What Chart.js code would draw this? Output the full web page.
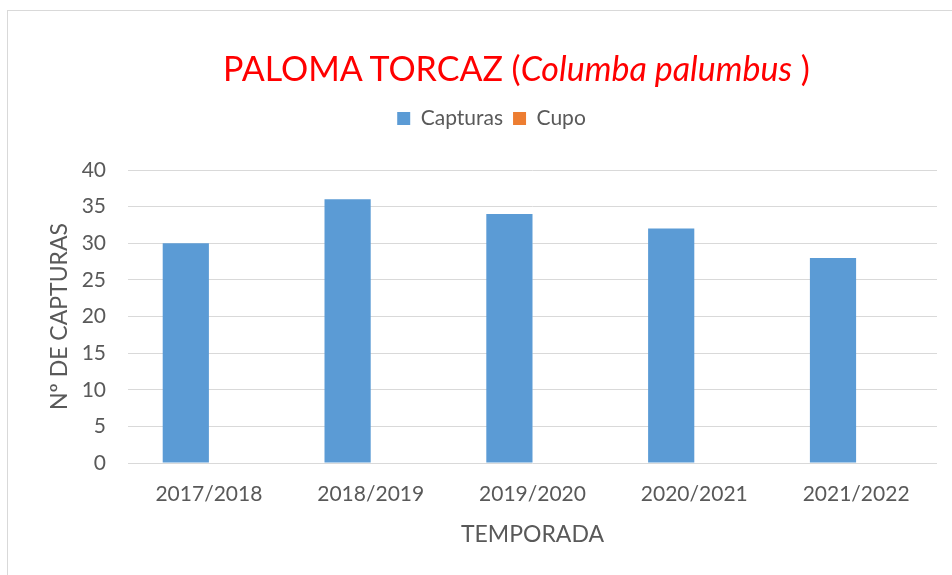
<!DOCTYPE html>
<html>
<head>
<meta charset="utf-8">
<script src="https://cdn.jsdelivr.net/npm/chart.js@4"></script>
<style>
    html, body { margin: 0; padding: 0; background: #fff; }
    #wrap { position: relative; width: 952px; height: 575px; overflow: hidden; }
    #frame { position: absolute; left: 7px; top: 10px; width: 1000px; height: 1000px; border: 1px solid #d9d9d9; box-sizing: border-box; }
    #titulo { position: absolute; left: 223px; top: 47px; font-family: Lato, sans-serif; font-size: 34px; color: #ff0000; white-space: nowrap; }
    canvas { position: absolute; left: 0; top: 0; }
</style>
</head>
<body>
<div id="wrap">
    <div id="frame"></div>
    <canvas id="chart1" width="952" height="575"></canvas>
    <div id="titulo">PALOMA TORCAZ (<i>Columba palumbus</i> )</div>
</div>
<script>
const temporadas = ['2017/2018', '2018/2019', '2019/2020', '2020/2021', '2021/2022'];
const capturas = [30, 36, 34, 32, 28];
const cupo = [null, null, null, null, null];

// deja hueco entre la leyenda y el area del grafico
const legendGap = {
    id: 'legendGap',
    beforeInit(chart) {
        const fitOrig = chart.legend.fit;
        chart.legend.fit = function () {
            fitOrig.bind(chart.legend)();
            this.height = 72;
        };
    }
};

document.addEventListener('DOMContentLoaded', () => {

    const ctx1 = document.getElementById('chart1').getContext('2d');
    new Chart(ctx1, {
        type: 'bar',
        data: {
            labels: temporadas,
            datasets: [{
                label: 'Capturas',
                data: capturas,
                backgroundColor: '#5b9bd5',
                barPercentage: 1,
                categoryPercentage: 0.571
            }, {
                label: 'Cupo',
                data: cupo,
                backgroundColor: '#ed7d31',
                barPercentage: 1,
                categoryPercentage: 0.571
            }]
        },
        plugins: [legendGap],
        options: {
            responsive: false,
            animation: false,
            layout: { padding: { left: 46, right: 15, top: 98, bottom: 27 } },
            plugins: {
                legend: {
                    display: true,
                    position: 'top',
                    labels: {
                        boxWidth: 13, boxHeight: 13, padding: 10,
                        color: '#595959',
                        font: { family: 'Lato', size: 21 }
                    }
                },
                tooltip: { enabled: false }
            },
            scales: {
                x: {
                    grid: { display: false },
                    border: { display: false },
                    afterFit: (scale) => { scale.height = 85; },
                    ticks: { color: '#595959', font: { family: 'Lato', size: 21 }, padding: 11 },
                    title: { display: true, text: 'TEMPORADA', color: '#595959', font: { family: 'Lato', size: 23 }, padding: { top: 0, bottom: 0 } }
                },
                y: {
                    min: 0, max: 40,
                    grid: { color: '#d9d9d9', drawTicks: false },
                    border: { display: false },
                    afterFit: (scale) => { scale.width = 82; },
                    ticks: { stepSize: 5, color: '#595959', font: { family: 'Lato', size: 21 }, padding: 22 },
                    title: { display: true, text: 'Nº DE CAPTURAS', color: '#595959', font: { family: 'Lato', size: 23 }, padding: { top: 0, bottom: 0 } }
                }
            }
        }
    });
});
</script>
</body>
</html>
